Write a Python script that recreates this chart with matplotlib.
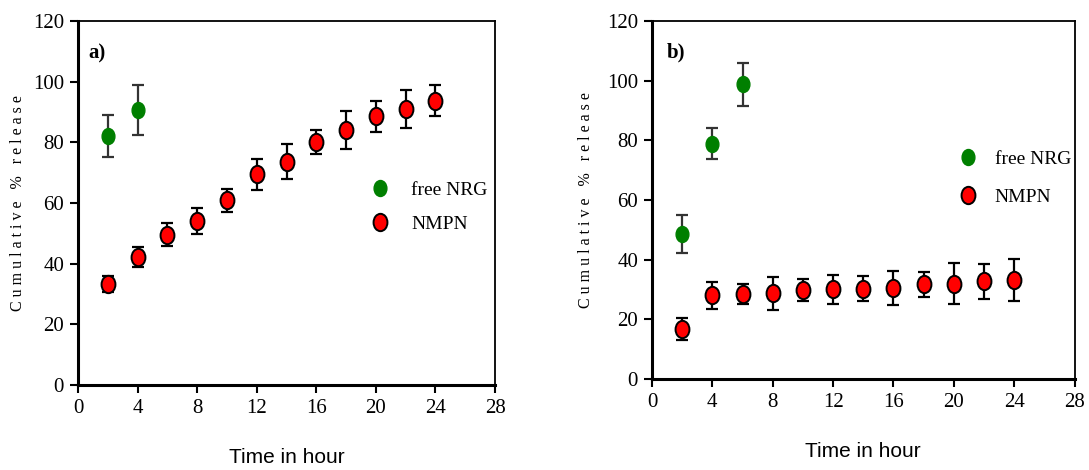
import matplotlib
matplotlib.use('agg')
import matplotlib.pyplot as plt
import numpy as np
from matplotlib.path import Path

# panel a)
a_free_t = [2, 4]
a_free_y = [82.1, 90.6]
a_free_err = [6.9, 8.3]
a_nmpn_t = [2, 4, 6, 8, 10, 12, 14, 16, 18, 20, 22, 24]
a_nmpn_y = [33.3, 42.2, 49.5, 54.1, 60.9, 69.5, 73.7, 80.1, 84.1, 88.6, 91.1, 93.8]
a_nmpn_err = [2.5, 3.3, 3.8, 4.3, 3.7, 5.1, 5.7, 4.0, 6.4, 5.2, 6.3, 5.1]

# panel b)
b_free_t = [2, 4, 6]
b_free_y = [48.6, 78.9, 98.7]
b_free_err = [6.3, 5.2, 7.2]
b_nmpn_t = [2, 4, 6, 8, 10, 12, 14, 16, 18, 20, 22, 24]
b_nmpn_y = [16.7, 28.1, 28.5, 28.7, 29.8, 30.1, 30.3, 30.5, 31.7, 32.0, 32.8, 33.2]
b_nmpn_err = [3.7, 4.5, 3.4, 5.6, 3.7, 4.8, 4.2, 5.8, 4.2, 6.9, 5.9, 7.1]

xticks = [0, 4, 8, 12, 16, 20, 24, 28]
yticks = [0, 20, 40, 60, 80, 100, 120]

serif = 'Liberation Serif'
sans = 'Liberation Sans'

# slightly tall ellipse marker like the original
circ = Path.unit_circle()
ellipse = Path(circ.vertices * np.array([0.8, 1.0]), circ.codes)


def draw_panel(ax, free, nmpn, tag, tag_pos, leg_pos, ypad, leg_space, text_pad):
    ft, fy, fe = free
    nt, ny, ne = nmpn
    ax.errorbar(ft, fy, yerr=fe, fmt='none', ecolor='#333333', elinewidth=1.6,
                capsize=4.5, capthick=1.6, zorder=2)
    ax.errorbar(nt, ny, yerr=ne, fmt='none', ecolor='black', elinewidth=1.6,
                capsize=4.5, capthick=1.6, zorder=2)
    ax.plot(ft, fy, linestyle='none', marker=ellipse, markersize=11.5,
            color='#007f00', markeredgecolor='#007f00', label='free NRG', zorder=3)
    ax.plot(nt, ny, linestyle='none', marker=ellipse, markersize=12.5,
            color='red', markeredgecolor='black', markeredgewidth=1.4,
            label='NMPN', zorder=3)

    ax.set_xlim(0, 28)
    ax.set_ylim(0, 120)
    ax.set_xticks(xticks)
    ax.set_yticks(yticks)
    for lab in ax.get_xticklabels() + ax.get_yticklabels():
        lab.set_fontfamily(serif)
        lab.set_fontsize(15)
    ax.tick_params(direction='out', length=6, width=1.5, top=False, right=False, pad=4)

    for s in ['left', 'bottom']:
        ax.spines[s].set_linewidth(2.2)
    for s in ['top', 'right']:
        ax.spines[s].set_linewidth(1.3)

    ax.set_xlabel('Time in hour', fontfamily=sans, fontsize=15, labelpad=22)
    ax.set_ylabel('C u m u l a t i v e   %   r e l e a s e', fontfamily=serif,
                  fontsize=11.5, labelpad=ypad)

    ax.text(tag_pos[0], tag_pos[1], tag, transform=ax.transAxes, fontfamily=serif,
            fontsize=15, fontweight='bold', va='center')

    ax.legend(loc='center left', bbox_to_anchor=leg_pos, frameon=False,
              prop={'family': serif, 'size': 14}, handletextpad=text_pad,
              labelspacing=leg_space, handlelength=1.5)


fig = plt.figure(figsize=(10.89, 4.70), dpi=100)
ax1 = fig.add_axes([0.0716, 0.181, 0.383, 0.774])
ax2 = fig.add_axes([0.5987, 0.1936, 0.388, 0.762])

draw_panel(ax1, (a_free_t, a_free_y, a_free_err), (a_nmpn_t, a_nmpn_y, a_nmpn_err),
           'a)', (0.024, 0.912), (0.648, 0.489), 5, 0.85, 0.85)
draw_panel(ax2, (b_free_t, b_free_y, b_free_err), (b_nmpn_t, b_nmpn_y, b_nmpn_err),
           'b)', (0.035, 0.913), (0.671, 0.562), 9, 1.05, 0.65)

plt.savefig('out.png', dpi=100)
